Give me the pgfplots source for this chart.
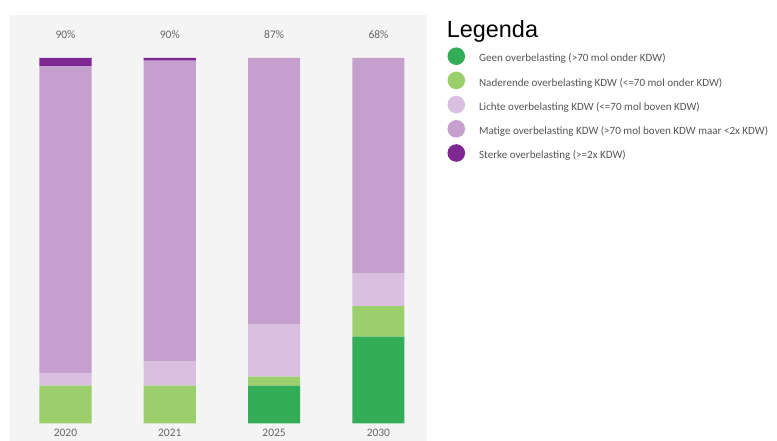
\documentclass[border=0pt]{standalone}
\usepackage{pgfplots}
\pgfplotsset{compat=1.18}
\usepackage{fontspec}
\setmainfont{Carlito}
\newfontfamily\arialfont{Liberation Sans}
\definecolor{geen}{HTML}{34AD59}
\definecolor{naderende}{HTML}{9BCF6C}
\definecolor{lichte}{HTML}{D9C0E0}
\definecolor{matige}{HTML}{C5A0CE}
\definecolor{sterke}{HTML}{7F2790}
\definecolor{panelbg}{HTML}{F4F4F4}
\definecolor{lbl}{HTML}{666666}
\definecolor{legtext}{HTML}{555555}
\pgfplotsset{circleleg/.style={legend image code/.code={\fill[##1,draw=none] (8.8bp,3.2bp) circle (8.8bp);}}}
\begin{document}
\begin{tikzpicture}
\path[use as bounding box] (0,0) rectangle (777bp,441bp);
\begin{axis}[
  at={(10bp,0bp)}, anchor=south west,
  scale only axis, width=416.7bp, height=426bp,
  ybar stacked, bar width=0.5,
  xmin=-0.532, xmax=3.463, ymin=-4.85, ymax=111.77,
  axis line style={draw=none}, xtick=\empty, ytick=\empty,
  axis background/.style={fill=panelbg},
  clip=false,
  legend cell align=left,
  legend style={at={(1.0494,0.9244)}, anchor=north west, draw=none, fill=none,
    inner sep=0pt, row sep=6.6bp,
    /tikz/every odd column/.append style={column sep=14bp},
    nodes={inner sep=0pt, text=legtext, font=\fontsize{11.1}{13}\selectfont, text height=8bp, text depth=3bp}},
]
\addplot[fill=geen, draw=none, circleleg] coordinates {(0,0) (1,0) (2,10.3) (3,23.7)};
\addplot[fill=naderende, draw=none, circleleg] coordinates {(0,10.3) (1,10.3) (2,2.5) (3,8.4)};
\addplot[fill=lichte, draw=none, circleleg] coordinates {(0,3.4) (1,6.8) (2,14.4) (3,9.0)};
\addplot[fill=matige, draw=none, circleleg] coordinates {(0,84.1) (1,82.2) (2,72.8) (3,58.9)};
\addplot[fill=sterke, draw=none, circleleg] coordinates {(0,2.2) (1,0.7) (2,0) (3,0)};
\legend{Geen overbelasting (>70 mol onder KDW),
Naderende overbelasting KDW (<=70 mol onder KDW),
Lichte overbelasting KDW (<=70 mol boven KDW),
Matige overbelasting KDW (>70 mol boven KDW maar <2x KDW),
Sterke overbelasting (>=2x KDW)}
\foreach \x/\lab in {0/2020,1/2021,2/2025,3/2030}{
  \edef\tmp{\noexpand\node[font=\noexpand\fontsize{11.5}{13}\noexpand\selectfont, text=lbl] at (axis cs:\x,-2.66) {\lab};}\tmp
}
\node[font=\fontsize{11.5}{13}\selectfont, text=lbl] at (axis cs:0,106.3) {90\%};
\node[font=\fontsize{11.5}{13}\selectfont, text=lbl] at (axis cs:1,106.3) {90\%};
\node[font=\fontsize{11.5}{13}\selectfont, text=lbl] at (axis cs:2,106.3) {87\%};
\node[font=\fontsize{11.5}{13}\selectfont, text=lbl] at (axis cs:3,106.3) {68\%};
\end{axis}
\node[font=\arialfont\fontsize{23.5}{25}\selectfont, anchor=base west, inner sep=0pt] at (446.7bp,403.3bp) {Legenda};
\end{tikzpicture}
\end{document}
